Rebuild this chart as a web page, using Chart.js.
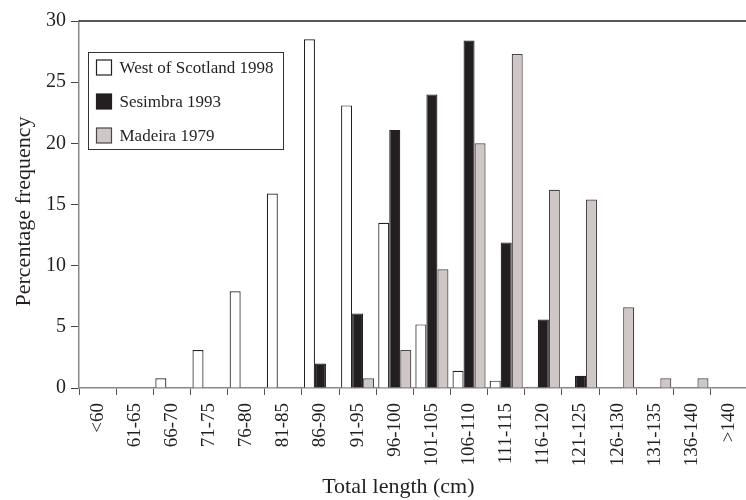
<!DOCTYPE html>
<html>
<head>
<meta charset="utf-8">
<script src="https://cdn.jsdelivr.net/npm/chart.js@4/dist/chart.umd.min.js"></script>
<style>
  html, body { margin: 0; padding: 0; background: #fff; overflow: hidden; }
  #wrap { width: 760px; height: 500px; }
</style>
</head>
<body>
<div id="wrap"><canvas id="c" width="760" height="500"></canvas></div>
<script>
const categories = ["<60","61-65","66-70","71-75","76-80","81-85","86-90","91-95","96-100","101-105","106-110","111-115","116-120","121-125","126-130","131-135","136-140",">140"];
const westScotland1998 = [0, 0, 0.8, 3.1, 7.9, 15.9, 28.5, 23.1, 13.5, 5.2, 1.4, 0.6, 0.1, 0, 0, 0, 0, 0];
const sesimbra1993     = [0, 0, 0, 0, 0, 0, 2.0, 6.1, 21.1, 24.0, 28.4, 11.9, 5.6, 1.0, 0, 0, 0, 0];
const madeira1979      = [0, 0, 0, 0, 0, 0, 0, 0.8, 3.1, 9.7, 20.0, 27.3, 16.2, 15.4, 6.6, 0.8, 0.8, 0];
const yTicks = [0, 5, 10, 15, 20, 25, 30];
const xTitle = 'Total length (cm)';
const yTitle = 'Percentage frequency';

const SERIF = "'Liberation Serif', 'Times New Roman', serif";
const INK = '#231f20';

const frameAndLegend = {
  id: 'frameAndLegend',
  afterDraw(chart) {
    const ctx = chart.ctx, a = chart.chartArea;
    ctx.save();
    // top frame line
    ctx.strokeStyle = INK; ctx.lineWidth = 1.4;
    ctx.beginPath(); ctx.moveTo(a.left, a.top); ctx.lineTo(a.right, a.top); ctx.stroke();
    // axis titles
    ctx.fillStyle = INK; ctx.font = '22px ' + SERIF; ctx.textAlign = 'center'; ctx.textBaseline = 'middle';
    ctx.fillText(xTitle, (a.left + a.right) / 2 - 15, chart.height - 13);
    ctx.save();
    ctx.translate(24, (a.top + a.bottom) / 2 + 7);
    ctx.rotate(-Math.PI / 2);
    ctx.fillText(yTitle, 0, 0);
    ctx.restore();
    // legend
    const bx = a.left + 9.5, by = a.top + 31.5, bw = 195, bh = 97;
    ctx.fillStyle = '#fff'; ctx.fillRect(bx, by, bw, bh);
    ctx.strokeStyle = '#333'; ctx.lineWidth = 1; ctx.strokeRect(bx, by, bw, bh);
    ctx.font = '17px ' + SERIF; ctx.textBaseline = 'middle'; ctx.textAlign = 'left';
    chart.data.datasets.forEach((ds, i) => {
      const cy = by + 15 + i * 34;
      ctx.fillStyle = ds.backgroundColor; ctx.fillRect(bx + 8, cy - 7.5, 15, 15);
      ctx.strokeStyle = ds.borderColor; ctx.lineWidth = 1.2; ctx.strokeRect(bx + 8, cy - 7.5, 15, 15);
      ctx.fillStyle = INK; ctx.fillText(ds.label, bx + 31, cy + 1);
    });
    ctx.restore();
  }
};

new Chart(document.getElementById('c'), {
  type: 'bar',
  data: {
    labels: categories,
    datasets: [
      { label: 'West of Scotland 1998', data: westScotland1998, backgroundColor: '#ffffff', borderColor: INK, borderWidth: 1.2 },
      { label: 'Sesimbra 1993', data: sesimbra1993, backgroundColor: INK, borderColor: INK, borderWidth: 1.2 },
      { label: 'Madeira 1979', data: madeira1979, backgroundColor: '#cfc7c5', borderColor: '#4a4546', borderWidth: 1.2 }
    ]
  },
  options: {
    responsive: false,
    animation: false,
    events: [],
    layout: { padding: { left: 0, right: 4, top: 21, bottom: 0 } },
    datasets: { bar: { categoryPercentage: 0.89, barPercentage: 1.0, borderSkipped: 'start' } },
    plugins: { legend: { display: false }, tooltip: { enabled: false } },
    scales: {
      x: {
        grid: { display: true, drawOnChartArea: false, drawTicks: true, tickLength: 7, color: '#555', offset: true },
        border: { display: true, color: '#888', width: 1.5 },
        ticks: { autoSkip: false, maxRotation: 90, minRotation: 90, padding: 8, color: INK, font: { family: SERIF, size: 19 } },
        title: { display: false },
        afterFit(s) { s.height = 112; }
      },
      y: {
        min: 0, max: 30,
        afterBuildTicks(s) { s.ticks = yTicks.map(v => ({ value: v })); },
        grid: { display: true, drawOnChartArea: false, drawTicks: true, tickLength: 8, color: '#444' },
        border: { display: true, color: '#888', width: 1.5 },
        ticks: { padding: 5, color: INK, font: { family: SERIF, size: 20 } },
        title: { display: false },
        afterFit(s) { s.width = 79; }
      }
    }
  },
  plugins: [frameAndLegend]
});
</script>
</body>
</html>
